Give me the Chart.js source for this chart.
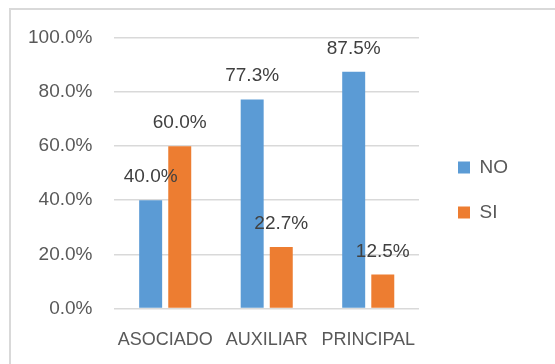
<!DOCTYPE html>
<html>
<head>
<meta charset="utf-8">
<script src="https://cdn.jsdelivr.net/npm/chart.js@4/dist/chart.umd.min.js"></script>
<style>
  body { margin: 0; background: #fff; }
  #wrap { position: relative; width: 555px; height: 364px; overflow: hidden; }
  #frame { position: absolute; left: 9px; top: 8px; width: 700px; height: 500px; border: 2px solid #d9d9d9; }
  #box { position: absolute; left: 0; top: 0; width: 555px; height: 364px; }
</style>
</head>
<body>
<div id="wrap">
  <div id="frame"></div>
  <div id="box"><canvas id="grafico"></canvas></div>
</div>
<script>
const categorias = ['ASOCIADO', 'AUXILIAR', 'PRINCIPAL'];
const valoresNo = [40.0, 77.3, 87.5];
const valoresSi = [60.0, 22.7, 12.5];
const fuente = 'Liberation Sans, Arial, sans-serif';

// etiquetas de datos encima de cada barra
const etiquetas = {
    id: 'etiquetas',
    afterDatasetsDraw(chart) {
        const c = chart.ctx;
        c.save();
        c.font = '19px ' + fuente;
        c.fillStyle = '#404040';
        c.textAlign = 'center';
        c.textBaseline = 'alphabetic';
        chart.data.datasets.forEach((ds, i) => {
            chart.getDatasetMeta(i).data.forEach((bar, j) => {
                c.fillText(ds.data[j].toFixed(1) + '%', bar.x, bar.y - 18);
            });
        });
        c.restore();
    }
};

// separar la leyenda del area del grafico
const moverLeyenda = {
    id: 'moverLeyenda',
    afterLayout(chart) {
        const lg = chart.legend;
        if (!lg) return;
        lg.left += 13;
        lg.right += 13;
        lg.top -= 11;
        lg.bottom -= 11;
    }
};

const ctx = document.getElementById('grafico').getContext('2d');
new Chart(ctx, {
    type: 'bar',
    data: {
        labels: categorias,
        datasets: [
            { label: 'NO', data: valoresNo, backgroundColor: '#5b9bd5' },
            { label: 'SI', data: valoresSi, backgroundColor: '#ed7d31' }
        ]
    },
    options: {
        responsive: true,
        maintainAspectRatio: false,
        animation: false,
        categoryPercentage: 0.573,
        barPercentage: 0.79,
        layout: { padding: { top: 38, right: 50, bottom: 0, left: 6 } },
        plugins: {
            legend: {
                position: 'right',
                labels: {
                    color: '#595959',
                    font: { family: fuente, size: 19 },
                    boxWidth: 12,
                    boxHeight: 12,
                    padding: 26
                }
            },
            tooltip: { enabled: false }
        },
        scales: {
            x: {
                grid: { display: false },
                border: { display: false },
                ticks: {
                    color: '#595959',
                    font: { family: fuente, size: 18 },
                    padding: 13,
                    maxRotation: 0,
                    minRotation: 0,
                    autoSkip: false
                }
            },
            y: {
                min: 0,
                max: 100,
                ticks: {
                    stepSize: 20,
                    color: '#595959',
                    font: { family: fuente, size: 19 },
                    padding: 22,
                    callback: v => v.toFixed(1) + '%'
                },
                grid: { color: '#d9d9d9', lineWidth: 1.5, drawTicks: false },
                border: { display: false }
            }
        }
    },
    plugins: [etiquetas, moverLeyenda]
});
</script>
</body>
</html>
